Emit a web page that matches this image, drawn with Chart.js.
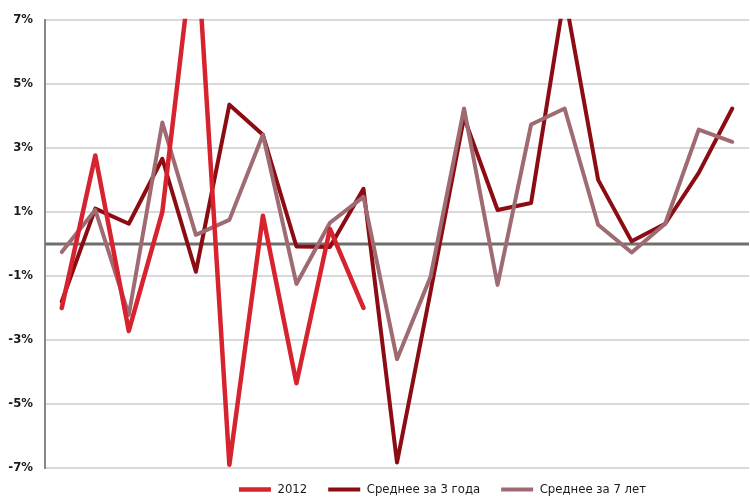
<!DOCTYPE html>
<html>
<head>
<meta charset="utf-8">
<script src="https://cdn.jsdelivr.net/npm/chart.js@4"></script>
<style>
  html, body { margin: 0; padding: 0; background: #fff; }
  #wrap { width: 750px; height: 497px; }
</style>
</head>
<body>
<div id="wrap"><canvas id="chart"></canvas></div>
<script>
// данные
const weeks = ['1','2','3','4','5','6','7','8','9','10','11','12','13','14','15','16','17','18','19','20','21'];
const y2012 = [-2.0, 2.76, -2.72, 1.0, 9.9, -6.9, 0.88, -4.35, 0.47, -2.0];
const avg3 = [-1.8, 1.1, 0.63, 2.66, -0.87, 4.35, 3.41, -0.08, -0.1, 1.72, -6.83, -1.5, 3.95, 1.06, 1.28, 7.8, 2.0, 0.08, 0.63, 2.22, 4.23];
const avg7 = [-0.25, 1.06, -2.22, 3.79, 0.28, 0.75, 3.41, -1.25, 0.66, 1.47, -3.6, -1.03, 4.23, -1.28, 3.73, 4.23, 0.6, -0.27, 0.63, 3.57, 3.19];
const yTicks = [-7, -5, -3, -1, 1, 3, 5, 7];

const tickFont = '"Liberation Sans Narrow", "DejaVu Sans Condensed", "Liberation Sans", sans-serif';

// линия нуля под графиками
const zeroLine = {
    id: 'zeroLine',
    beforeDatasetsDraw(chart) {
        const {ctx, chartArea, scales} = chart;
        const y = scales.y.getPixelForValue(0);
        ctx.save();
        ctx.strokeStyle = '#6f6f6f';
        ctx.lineWidth = 3;
        ctx.beginPath();
        ctx.moveTo(chartArea.left, y);
        ctx.lineTo(chartArea.right, y);
        ctx.stroke();
        ctx.restore();
    }
};

// легенда в Excel сдвинута вправо
const legendShift = {
    id: 'legendShift',
    afterLayout(chart) {
        const lg = chart.legend;
        const dx = 68, dy = -6;
        lg.left += dx; lg.right += dx;
        lg.top += dy; lg.bottom += dy;
    }
};

const line = (label, data, color, order, width) => ({
    label: label,
    data: data,
    borderColor: color,
    backgroundColor: color,
    borderWidth: width,
    pointRadius: 0,
    pointHoverRadius: 0,
    tension: 0,
    borderJoinStyle: 'round',
    borderCapStyle: 'round',
    order: order,
    clip: 1,
});

new Chart(document.getElementById('chart'), {
    type: 'line',
    data: {
        labels: weeks,
        datasets: [
            line('2012', y2012, '#d6232e', 0, 4.5),
            line('Среднее за 3 года', avg3, '#8c0c13', 2, 4),
            line('Среднее за 7 лет', avg7, '#9f6b73', 1, 4),
        ]
    },
    options: {
        responsive: true,
        maintainAspectRatio: false,
        animation: false,
        layout: { padding: { top: 19, right: 1, left: 0, bottom: -15 } },
        plugins: {
            tooltip: { enabled: false },
            legend: {
                position: 'bottom',
                labels: {
                    usePointStyle: true,
                    pointStyle: 'line',
                    pointStyleWidth: 32,
                    boxHeight: 4,
                    padding: 21,
                    color: '#1a1a1a',
                    font: { family: tickFont, size: 13 },
                    sort: (a, b) => a.datasetIndex - b.datasetIndex,
                }
            }
        },
        scales: {
            x: {
                display: false,
                offset: true,
            },
            y: {
                min: -7,
                max: 7,
                afterFit: (scale) => { scale.width = 45; },
                afterBuildTicks: (scale) => { scale.ticks = yTicks.map(v => ({ value: v })); },
                grid: { color: '#d9d9d9', lineWidth: 2, drawTicks: false },
                border: { color: '#878787', width: 2 },
                ticks: {
                    padding: 12,
                    color: '#1a1a1a',
                    font: { family: tickFont, size: 13, weight: 'bold' },
                    callback: (v) => v + '%',
                }
            }
        }
    },
    plugins: [zeroLine, legendShift]
});
</script>
</body>
</html>
